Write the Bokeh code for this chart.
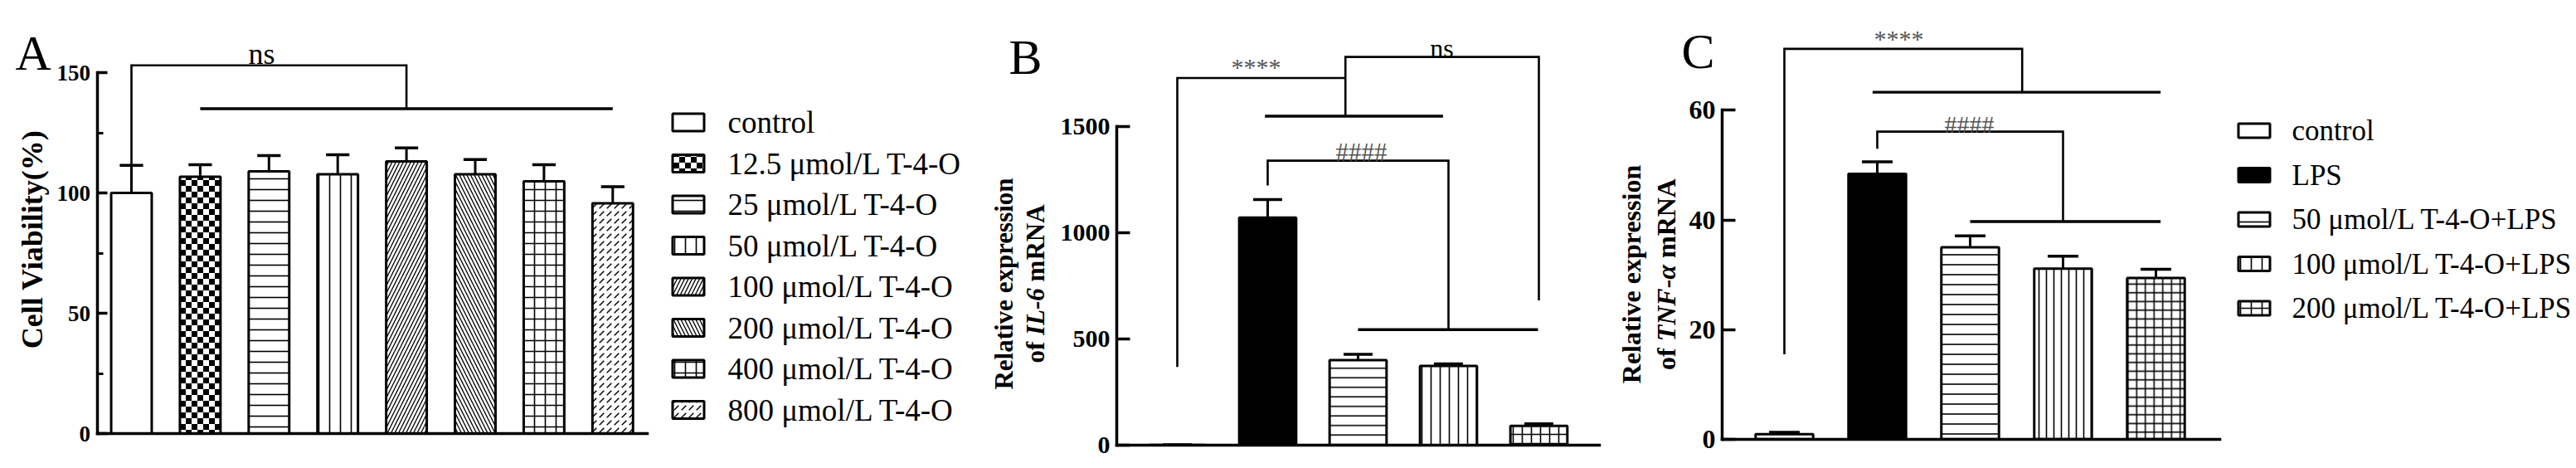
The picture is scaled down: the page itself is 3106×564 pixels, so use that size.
import math, base64, zlib, struct
from bokeh.plotting import figure
from bokeh.models import Range1d, LinearAxis, FixedTicker, ColumnDataSource, ImageURLTexture
from bokeh.layouts import row
from bokeh.core.properties import value
from bokeh.embed import file_html
from bokeh.resources import INLINE

# ---------------- data ----------------
a_groups = ["control", "12.5 μmol/L T-4-O", "25 μmol/L T-4-O", "50 μmol/L T-4-O",
            "100 μmol/L T-4-O", "200 μmol/L T-4-O", "400 μmol/L T-4-O", "800 μmol/L T-4-O"]
a_mean = [100.0, 106.7, 109.0, 107.8, 113.1, 107.8, 104.8, 95.7]
a_sem = [11.5, 5.0, 6.5, 8.1, 5.6, 6.1, 6.9, 6.9]
a_ticks = [0, 50, 100, 150]
a_minor = [25, 75, 125]

bc_groups = ["control", "LPS", "50 μmol/L T-4-O+LPS", "100 μmol/L T-4-O+LPS", "200 μmol/L T-4-O+LPS"]
b_mean = [1.0, 1071.0, 400.0, 373.0, 91.0]
b_sem = [0.5, 85.0, 28.0, 10.0, 10.0]
b_ticks = [0, 500, 1000, 1500]

c_mean = [0.9, 48.4, 35.0, 31.1, 29.4]
c_sem = [0.35, 2.2, 2.1, 2.3, 1.6]
c_ticks = [0, 20, 40, 60]

# significance brackets (x in group index, y in data units)
a_brackets = [([0, 0, 4, 4], [111.5, 153, 153, 135])]
a_lines = [([1, 7], [135, 135])]
a_sig = ["ns"]
b_brackets = [([0, 0, 1.86], [368, 1728, 1728]),
              ([1.86, 1.86, 4, 4], [1548, 1827, 1827, 681]),
              ([1, 1, 3, 3], [1222, 1339, 1339, 544])]
b_lines = [([0.97, 2.94], [1548, 1548]), ([2, 3.99], [544, 544])]
b_sig = ["****", "ns", "####"]
c_brackets = [([0, 0, 2.56, 2.56], [15.5, 71.2, 71.2, 63.3]),
              ([1, 1, 3, 3], [53.0, 56.1, 56.1, 39.7])]
c_lines = [([0.95, 4.05], [63.3, 63.3]), ([2, 4.05], [39.7, 39.7])]
c_sig = ["****", "####"]

# ---------------- styling ----------------
FONT = "Liberation Serif"
TOP, H = 0, 560
GREY = "#555555"


def checker_url(cell):
    n = cell * 2
    rows = []
    for yy in range(n):
        r = bytearray()
        for xx in range(n):
            c = 0 if ((xx // cell) + (yy // cell)) % 2 == 0 else 255
            r += bytes([c, c, c])
        rows.append(bytes(r))
    raw = b"".join(b"\x00" + r for r in rows)

    def chunk(t, d):
        return struct.pack(">I", len(d)) + t + d + struct.pack(">I", zlib.crc32(t + d) & 0xffffffff)
    png = (b"\x89PNG\r\n\x1a\n" + chunk(b"IHDR", struct.pack(">IIBBBBB", n, n, 8, 2, 0, 0, 0))
           + chunk(b"IDAT", zlib.compress(raw)) + chunk(b"IEND", b""))
    return "data:image/png;base64," + base64.b64encode(png).decode()


CHECK = {"checker": ImageURLTexture(url=checker_url(7), repetition="repeat")}


def make_fig(FX, W, cx0, dx, y0, k):
    p = figure(width=W, height=H,
               x_range=Range1d((FX - cx0) / dx, (FX + W - cx0) / dx),
               y_range=Range1d((y0 - TOP - H) / k, (y0 - TOP) / k),
               x_axis_type=None, y_axis_type=None, toolbar_location=None,
               output_backend="svg", min_border=0, outline_line_color=None)
    p.extra_x_ranges = {"px": Range1d(FX, FX + W)}
    p.extra_y_ranges = {"px": Range1d(TOP + H, TOP)}
    p.background_fill_color = "white"
    p.border_fill_color = "white"
    return p


def add_axes(p, xlo, xhi, ticks, minor, tick_len, font_px):
    ya = LinearAxis(fixed_location=xlo, bounds=(ticks[0], ticks[-1]),
                    ticker=FixedTicker(ticks=ticks, minor_ticks=minor))
    ya.axis_line_width = 3.5
    ya.axis_line_cap = "square"
    ya.major_tick_line_width = 3.5
    ya.major_tick_in = tick_len
    ya.major_tick_out = 0
    ya.minor_tick_line_width = 3
    ya.minor_tick_in = 7
    ya.minor_tick_out = 0
    ya.major_label_text_font = FONT
    ya.major_label_text_font_style = "bold"
    ya.major_label_text_font_size = f"{font_px}px"
    ya.major_label_text_color = "black"
    ya.major_label_standoff = 8
    p.add_layout(ya, "left")
    xa = LinearAxis(fixed_location=0, bounds=(xlo, xhi), ticker=FixedTicker(ticks=[]))
    xa.axis_line_width = 3.5
    xa.axis_line_cap = "square"
    xa.major_label_text_font_size = "0px"
    xa.major_tick_line_color = None
    p.add_layout(xa, "below")


def txt(p, x, y, s, size, style="normal", align="left", baseline="alphabetic", angle=0.0, color="black"):
    p.text(x=[x], y=[y], text=[s], x_range_name="px", y_range_name="px",
           text_font=value(FONT), text_font_size=value(f"{size}px"), text_font_style=style,
           text_align=align, text_baseline=baseline, angle=angle, text_color=color)


def draw_bars(p, means, sems, width, cap, pats, fills, scales, weights):
    xs = list(range(len(means)))
    tops = [m + s for m, s in zip(means, sems)]
    src = ColumnDataSource(dict(x=xs, top=means, hp=pats, fc=fills, hs=scales, hw=weights))
    p.vbar(x="x", top="top", bottom=0, width=width, source=src, fill_color="fc",
           line_color="black", line_width=3, hatch_pattern="hp", hatch_scale="hs",
           hatch_weight="hw", hatch_color="black", hatch_extra=CHECK)
    p.segment(x0=xs, y0=means, x1=xs, y1=tops, line_color="black", line_width=3)
    p.segment(x0=[x - cap / 2 for x in xs], y0=tops, x1=[x + cap / 2 for x in xs], y1=tops,
              line_color="black", line_width=3.5)


def draw_sig(p, brackets, lines):
    p.multi_line(xs=[b[0] for b in brackets], ys=[b[1] for b in brackets],
                 line_color="black", line_width=2.6, line_join="miter")
    p.multi_line(xs=[b[0] for b in lines], ys=[b[1] for b in lines],
                 line_color="black", line_width=3.4)


def draw_legend(p, labels, bx0, bx1, bh, cy0, step, tx, size, pats, fills, scales, weights):
    n = len(labels)
    ys = [cy0 + step * i for i in range(n)]
    src = ColumnDataSource(dict(x=[(bx0 + bx1) / 2] * n, y=ys, hp=pats, fc=fills, hs=scales, hw=weights))
    p.rect(x="x", y="y", width=bx1 - bx0 - 3, height=bh - 3, source=src, fill_color="fc",
           line_color="black", line_width=3, hatch_pattern="hp", hatch_scale="hs",
           hatch_weight="hw", hatch_color="black", hatch_extra=CHECK,
           x_range_name="px", y_range_name="px")
    p.text(x=[tx] * n, y=ys, text=labels, x_range_name="px", y_range_name="px",
           text_font=value(FONT), text_font_size=value(f"{size}px"),
           text_align="left", text_baseline="middle", text_color="black")


def split_title(p, x, yc, parts, fs):
    # parts: list of (text, style, width_em); drawn bottom-to-top, centred on yc
    total = sum(w for _, _, w in parts)
    y = yc + total * fs / 2
    for s, st, w in parts:
        if s.strip():
            txt(p, x, y, s, fs, style=st, baseline="middle", angle=math.pi / 2)
        y -= w * fs


# ---------------- panel A ----------------
pA = make_fig(0, 1180, 158.0, 82.9, 522.0, 2.9)
a_pats = [" ", "checker", "-", "|", "/", "\\", "+", ","]
a_fill = ["white"] * 8
a_scale = [12, 12, 13, 13, 9, 9, 13, 9]
a_w = [1.6, 1.6, 1.6, 1.6, 1.3, 1.3, 1.6, 1.5]
draw_bars(pA, a_mean, a_sem, 0.59, 0.34, a_pats, a_fill, a_scale, a_w)
draw_sig(pA, a_brackets, a_lines)
add_axes(pA, -0.5, 7.5, a_ticks, a_minor, 12, 27)
txt(pA, 18, 63, "A", 60)
txt(pA, 315, 64, a_sig[0], 36, align="center")
txt(pA, 38.5, 288, "Cell Viability(%)", 36, style="bold", align="center", baseline="middle", angle=math.pi / 2)
draw_legend(pA, a_groups, 809, 850, 24, 147, 49.5, 877, 37, a_pats, a_fill, a_scale, a_w)

# ---------------- panel B ----------------
pB = make_fig(1180, 760, 1419.0, 109.0, 536.0, 128.05 / 500)
bc_pats = [" ", " ", "-", "|", "+"]
bc_fill = ["white", "black", "white", "white", "white"]
bc_w = [1.6] * 5
b_scale = [12, 12, 11.5, 11, 11]
draw_bars(pB, b_mean, b_sem, 0.63, 0.32, bc_pats, bc_fill, b_scale, bc_w)
draw_sig(pB, b_brackets, b_lines)
add_axes(pB, -0.67, 4.67, b_ticks, [], 16, 30)
txt(pB, 1216, 68, "B", 60)
txt(pB, 1514, 80, b_sig[0], 30, align="center", color=GREY)
txt(pB, 1738, 57, b_sig[1], 32, align="center")
txt(pB, 1641, 183, b_sig[2], 31, align="center", color=GREY)
txt(pB, 1210, 341.5, "Relative expression", 31, style="bold", align="center", baseline="middle", angle=math.pi / 2)
split_title(pB, 1248, 341.5, [("of", "bold", 0.833), (" ", "bold", 0.25), ("IL-6", "bold italic", 1.833),
                              (" ", "bold", 0.25), ("mRNA", "bold", 2.999)], 31)

# ---------------- panel C ----------------
pC = make_fig(1940, 1160, 2151.0, 112.0, 528.8, 6.607)
c_scale = [12, 12, 12, 9, 10.5]
draw_bars(pC, c_mean, c_sem, 0.62, 0.33, bc_pats, bc_fill, c_scale, bc_w)
draw_sig(pC, c_brackets, c_lines)
add_axes(pC, -0.67, 4.69, c_ticks, [], 16, 32)
txt(pC, 2027, 61, "C", 60)
txt(pC, 2289, 46, c_sig[0], 30, align="center", color=GREY)
txt(pC, 2374, 149, c_sig[1], 30, align="center", color=GREY)
txt(pC, 1966, 330, "Relative expression", 32, style="bold", align="center", baseline="middle", angle=math.pi / 2)
split_title(pC, 2008, 330, [("of", "bold", 0.833), (" ", "bold", 0.25), ("TNF-α", "bold italic", 2.883),
                            (" ", "bold", 0.25), ("mRNA", "bold", 2.999)], 32)
draw_legend(pC, bc_groups, 2697, 2738, 20, 157, 53.5, 2763, 35, bc_pats, bc_fill, [12, 12, 13, 13, 13], bc_w)

layout = row(pA, pB, pC, spacing=0)
open("out.html", "w").write(file_html(layout, INLINE))
